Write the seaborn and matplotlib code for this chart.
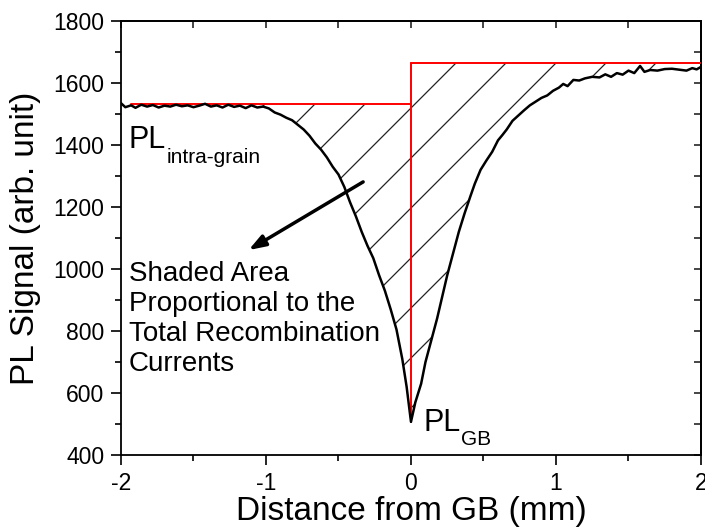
import numpy as np
import matplotlib
matplotlib.use("Agg")
import matplotlib.pyplot as plt
from matplotlib.path import Path
from matplotlib.transforms import Affine2D
from matplotlib.ticker import MultipleLocator
import seaborn as sns

# PL line scan across the grain boundary
distance = [-2.00, -1.97, -1.93, -1.90, -1.86, -1.82, -1.78, -1.74, -1.70, -1.66,
            -1.62, -1.58, -1.54, -1.50, -1.46, -1.42, -1.38, -1.34, -1.30, -1.26,
            -1.22, -1.18, -1.14, -1.10, -1.06, -1.02, -0.98, -0.94, -0.90, -0.86,
            -0.82, -0.78, -0.74, -0.70, -0.66, -0.62, -0.58, -0.54, -0.50, -0.46,
            -0.42, -0.38, -0.34, -0.30, -0.26, -0.22, -0.18, -0.14, -0.10, -0.06,
            -0.03, 0.00, 0.03, 0.07, 0.10, 0.14, 0.18, 0.21, 0.25, 0.29,
            0.33, 0.37, 0.41, 0.44, 0.48, 0.52, 0.56, 0.60, 0.63, 0.66,
            0.70, 0.74, 0.78, 0.82, 0.86, 0.90, 0.94, 0.98, 1.02, 1.05,
            1.08, 1.12, 1.16, 1.20, 1.25, 1.30, 1.34, 1.38, 1.42, 1.46,
            1.50, 1.54, 1.58, 1.61, 1.65, 1.70, 1.75, 1.80, 1.85, 1.90,
            1.94, 1.97, 2.00]
pl_signal = [1535, 1522, 1528, 1520, 1530, 1524, 1529, 1521, 1527, 1524,
             1530, 1525, 1528, 1522, 1527, 1533, 1524, 1528, 1521, 1530,
             1523, 1527, 1519, 1528, 1521, 1524, 1518, 1505, 1498, 1488,
             1480, 1465, 1450, 1430, 1405, 1385, 1360, 1330, 1305, 1265,
             1215, 1170, 1120, 1075, 1035, 980, 930, 870, 805, 710,
             620, 507, 570, 630, 700, 770, 840, 900, 980, 1050,
             1120, 1180, 1235, 1275, 1320, 1350, 1378, 1415, 1432, 1450,
             1478, 1495, 1512, 1528, 1540, 1552, 1560, 1575, 1585, 1597,
             1590, 1610, 1608, 1615, 1620, 1618, 1628, 1620, 1632, 1627,
             1640, 1632, 1655, 1636, 1642, 1640, 1645, 1646, 1643, 1640,
             1648, 1644, 1652]

level_intra = 1532
level_right = 1663
level_gb = 507
red_start = -1.93

sns.set_style("ticks")
plt.rcParams['font.family'] = ['Liberation Sans', 'DejaVu Sans']
plt.rcParams['axes.edgecolor'] = 'black'
plt.rcParams['axes.linewidth'] = 1.3
plt.rcParams['text.color'] = 'black'
plt.rcParams['axes.labelcolor'] = 'black'
plt.rcParams['axes.unicode_minus'] = False

fig, ax = plt.subplots(figsize=(7.05, 5.32), dpi=100)
fig.subplots_adjust(left=0.1716, right=0.9943, bottom=0.1447, top=0.9605)

sns.lineplot(x=distance, y=pl_signal, color='black', lw=1.8, ax=ax,
             sort=False, estimator=None, zorder=4)

# red reference levels
ax.plot([red_start, 0], [level_intra, level_intra], color='#ff0000', lw=1.4, zorder=3)
ax.plot([0, 0], [level_gb, level_right], color='#ff0000', lw=1.4, zorder=3)
ax.plot([0, 2], [level_right, level_right], color='#ff0000', lw=1.4, zorder=3)

# region between curve and reference levels -> sparse hatching
x = np.array(distance)
y = np.array(pl_signal, dtype=float)
lm = (x >= red_start) & (x <= 0)
rm = x >= 0
f1 = ax.fill_between(x[lm], y[lm], level_intra, where=y[lm] < level_intra,
                     interpolate=True, facecolor='none', edgecolor='none')
f2 = ax.fill_between(x[rm], y[rm], level_right, where=y[rm] < level_right,
                     interpolate=True, facecolor='none', edgecolor='none')
clip = Path.make_compound_path(*(f1.get_paths() + f2.get_paths()))

pos = ax.get_position()
W = pos.width * fig.get_figwidth() * fig.dpi
H = pos.height * fig.get_figheight() * fig.dpi
htrans = Affine2D().scale(1 / W, 1 / H) + ax.transAxes
for c in np.arange(-57 - 50 * 10, W + 50, 50):
    ln, = ax.plot([c - H, c + 2 * H], [-H, 2 * H], color='#222222', lw=0.9,
                  transform=htrans, zorder=2)
    ln.set_clip_path(clip, ax.transData)

ax.set_xlim(-2, 2)
ax.set_ylim(400, 1800)
ax.xaxis.set_major_locator(MultipleLocator(1))
ax.xaxis.set_minor_locator(MultipleLocator(0.5))
ax.yaxis.set_major_locator(MultipleLocator(200))
ax.yaxis.set_minor_locator(MultipleLocator(100))
ax.tick_params(which='both', direction='out', color='black', width=1.2,
               labelsize=16.5, labelcolor='black')
ax.tick_params(which='major', length=7, pad=5)
ax.tick_params(which='minor', length=4)

top = ax.secondary_xaxis('top')
top.xaxis.set_major_locator(MultipleLocator(1))
top.xaxis.set_minor_locator(MultipleLocator(0.5))
top.tick_params(which='both', direction='in', labeltop=False, width=1.2, length=5)
right = ax.secondary_yaxis('right')
right.yaxis.set_major_locator(MultipleLocator(200))
right.yaxis.set_minor_locator(MultipleLocator(100))
right.tick_params(which='both', direction='in', labelright=False, width=1.2, length=5)

ax.set_xlabel('Distance from GB (mm)', fontsize=24, labelpad=1)
ax.set_ylabel('PL Signal (arb. unit)', fontsize=24, labelpad=9)

t1 = ax.text(-1.95, 1390, 'PL', fontsize=22, va='baseline')
ax.annotate('intra-grain', xy=(1, 0), xycoords=t1, xytext=(0.5, -5.5),
            textcoords='offset points', fontsize=15, va='baseline')
t2 = ax.text(0.085, 476, 'PL', fontsize=22, va='baseline')
ax.annotate('GB', xy=(1, 0), xycoords=t2, xytext=(0.5, -5),
            textcoords='offset points', fontsize=15, va='baseline')

ax.text(-1.945, 1025, 'Shaded Area\nProportional to the\nTotal Recombination\nCurrents',
        fontsize=20, va='top', linespacing=1.2)
ax.annotate('', xy=(-1.12, 1061), xytext=(-0.33, 1281),
            arrowprops=dict(arrowstyle='-|>,head_length=1.0,head_width=0.35',
                            lw=2.5, color='black', shrinkA=0, shrinkB=0))

fig.savefig('out.png', dpi=100)
